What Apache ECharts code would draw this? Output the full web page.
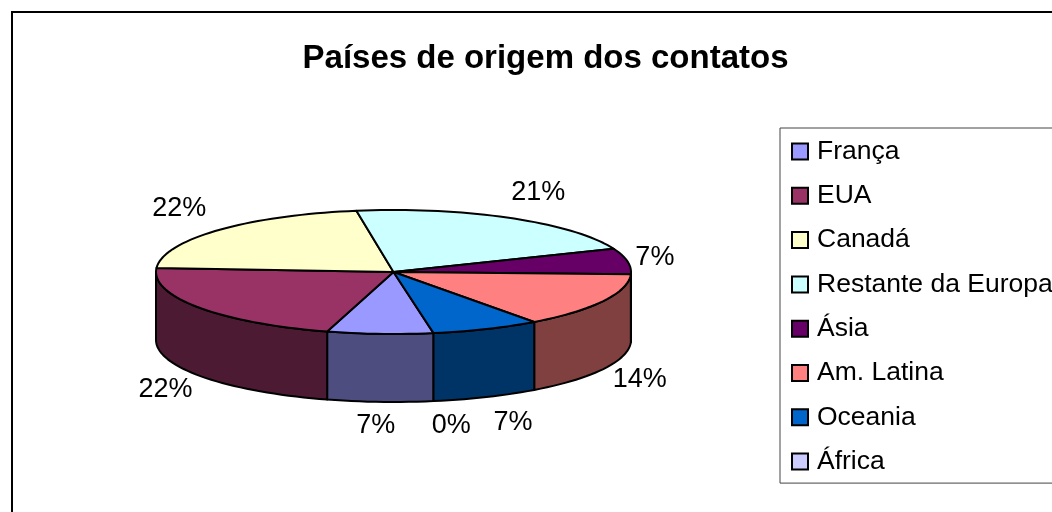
<!DOCTYPE html>
<html><head><meta charset="utf-8">
<style>html,body{margin:0;padding:0;background:#fff;overflow:hidden}#c{width:1052px;height:512px}</style>
<script src="https://cdn.jsdelivr.net/npm/echarts@6/dist/echarts.min.js"></script>
</head><body><div id="c"></div>
<script>
const chartTitle = 'Países de origem dos contatos';
const categories = ['França','EUA','Canadá','Restante da Europa','Ásia','Am. Latina','Oceania','África'];
const shares = [7.2, 21.5, 21.5, 21.4, 6.7, 14.3, 7.4, 0];
const topColors = ['#9999FF','#993366','#FFFFCC','#CCFFFF','#660066','#FF8080','#0066CC','#CCCCFF'];

const FONT = '"Liberation Sans", Arial, sans-serif';
const CX = 393.5, CY = 272, RX = 237.5, RY = 62, DEPTH = 68;
const START_DEG = -9.7;
const LABEL_DX = 40, LABEL_DY = 25;
const labelNudge = [[-2,-1],[-1,0],[-9,-5],[8,-4],[-12,0],[1,-1],[11,2],[11,0]];

function halfColor(hex) {
  const n = parseInt(hex.slice(1), 16);
  const h = v => Math.round(v / 2).toString(16).padStart(2, '0');
  return '#' + h(n >> 16 & 255) + h(n >> 8 & 255) + h(n & 255);
}
// angle measured from the bottom of the ellipse, clockwise on screen
function pt(deg, dy) {
  const r = deg * Math.PI / 180;
  return [CX - RX * Math.sin(r), CY + RY * Math.cos(r) + (dy || 0)];
}
function arc(a, b, dy) {
  const out = [], n = Math.max(1, Math.ceil(Math.abs(b - a) / 2));
  for (let i = 0; i <= n; i++) out.push(pt(a + (b - a) * i / n, dy));
  return out;
}
function makeRender(color, nudge) {
  const wall = halfColor(color);
  return function (params, api) {
    const a = api.value(0), b = api.value(1), value = api.value(2);
    const children = [];
    const lineStyle = { stroke: '#000', lineWidth: 2, lineJoin: 'round' };
    // front wall: the part of the slice within -90..90 degrees of the bottom
    [0, 360].forEach(shift => {
      const s = Math.max(a - shift, -90), e = Math.min(b - shift, 90);
      if (e > s) {
        children.push({ type: 'polygon',
          shape: { points: arc(s, e, 0).concat(arc(e, s, DEPTH)) },
          style: Object.assign({ fill: wall }, lineStyle) });
      }
    });
    if (b > a) {
      children.push({ type: 'polygon',
        shape: { points: [[CX, CY]].concat(arc(a, b, 0)) },
        style: Object.assign({ fill: color }, lineStyle) });
    }
    const mid = (a + b) / 2, r = mid * Math.PI / 180, c = Math.cos(r);
    children.push({ type: 'text', z2: 50, style: {
      x: CX - (RX + LABEL_DX) * Math.sin(r) + nudge[0],
      y: CY + (RY + LABEL_DY) * c + (c > 0 ? DEPTH : 0) + nudge[1],
      text: Math.round(value) + '%', fill: '#000',
      font: '27px ' + FONT, align: 'center', verticalAlign: 'middle' } });
    return { type: 'group', children };
  };
}
let cursor = START_DEG;
const series = categories.map((name, i) => {
  const a = cursor, b = cursor + shares[i] * 3.6;
  cursor = b;
  return { type: 'custom', name, coordinateSystem: 'none', silent: true,
    itemStyle: { color: topColors[i] },
    renderItem: makeRender(topColors[i], labelNudge[i]),
    data: [[a, b, shares[i]]] };
});
const chart = echarts.init(document.getElementById('c'), null, { renderer: 'canvas' });
chart.setOption({
  animation: false,
  backgroundColor: '#fff',
  title: { text: chartTitle, left: 540.5, top: 37, textAlign: 'center',
    textStyle: { fontFamily: FONT, fontWeight: 'bold', fontSize: 33, color: '#000' } },
  legend: { orient: 'vertical', left: 780, top: 128, icon: 'rect', itemWidth: 16, itemHeight: 16,
    itemGap: 17.3, padding: [10, 30, 8, 11], align: 'left',
    borderColor: '#444', borderWidth: 1, backgroundColor: '#fff', selectedMode: false,
    itemStyle: { borderColor: '#000', borderWidth: 2 },
    textStyle: { fontFamily: FONT, fontSize: 26.5, color: '#000', padding: [0,0,0,4] },
    data: categories },
  graphic: [{ type: 'rect', silent: true, z: -1,
    shape: { x: 12, y: 12, width: 1200, height: 700 },
    style: { fill: 'none', stroke: '#000', lineWidth: 2 } }],
  series
});
</script></body></html>
